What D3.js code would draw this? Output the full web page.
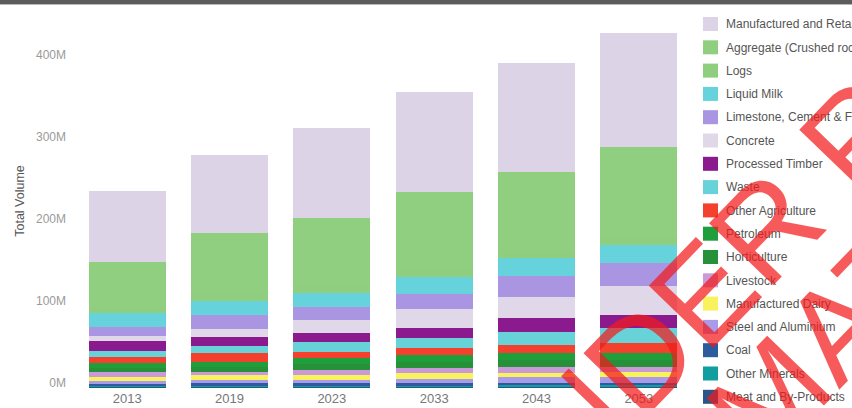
<!DOCTYPE html>
<html>
<head>
<meta charset="utf-8">
<script src="https://cdn.jsdelivr.net/npm/d3@7"></script>
<style>
  html, body { margin: 0; padding: 0; background: #fff; overflow: hidden; }
  svg { display: block; }
</style>
</head>
<body>
<svg id="chart" width="852" height="408"></svg>
<script>
// Freight volume by commodity, millions of tonnes
const years = ["2013", "2019", "2023", "2033", "2043", "2053"];

const seriesNames = [
  "Manufactured and Retail",
  "Aggregate (Crushed rock)",
  "Logs",
  "Liquid Milk",
  "Limestone, Cement & Fertiliser",
  "Concrete",
  "Processed Timber",
  "Waste",
  "Other Agriculture",
  "Petroleum",
  "Horticulture",
  "Livestock",
  "Manufactured Dairy",
  "Steel and Aluminium",
  "Coal",
  "Other Minerals",
  "Meat and By-Products"
];

const manufacturedRetail = [86.6, 95, 110, 121, 133, 139];
const aggregate          = [56, 74, 83, 94, 95, 108.5];
const logs               = [7, 8.5, 8.5, 10, 10, 11];
const liquidMilk         = [17, 17, 17, 21, 22, 23];
const limestoneCement    = [10, 17, 16, 18, 25.6, 28];
const concrete           = [7, 10, 16, 23, 25.6, 35];
const processedTimber    = [12, 11, 11, 12, 17, 16];
const waste              = [7, 8.5, 12, 13, 16, 18];
const otherAgriculture   = [7, 11, 8, 8.5, 10, 12];
const petroleum          = [6, 6, 6.7, 8, 8.5, 8.5];
const horticulture       = [5, 6, 7.3, 8, 8.5, 8.5];
const livestock          = [6, 4, 6, 6, 6.7, 6];
const manufacturedDairy  = [5, 6, 6, 7, 5.5, 6];
const steelAluminium     = [4, 4, 4, 5, 7.3, 7.3];
const coal               = [2.5, 3, 3, 3, 3, 3];
const otherMinerals      = [1.2, 1.2, 1.2, 1.2, 1.5, 1.8];
const meatByProducts     = [1.2, 1.8, 1.8, 1.8, 1.6, 1.8];

const yTicks = [0, 100, 200, 300, 400];

const seriesValues = [
  manufacturedRetail, aggregate, logs, liquidMilk, limestoneCement, concrete,
  processedTimber, waste, otherAgriculture, petroleum, horticulture, livestock,
  manufacturedDairy, steelAluminium, coal, otherMinerals, meatByProducts
];

const palette = [
  "#ddd3e6", "#90cf80", "#8fce7f", "#66d2dc", "#a995e2", "#e0d8e9",
  "#8b1a8f", "#68d2d9", "#f4412d", "#1f9e3c", "#27913a", "#c99ad7",
  "#f8f25c", "#a99bea", "#2c5c9e", "#109ea0", "#2c5587"
];

const svg = d3.select("#chart");

// header strip
svg.append("rect").attr("x", 0).attr("y", 0).attr("width", 852).attr("height", 4)
  .attr("fill", "#5c5c5c");
svg.append("rect").attr("x", 0).attr("y", 4).attr("width", 852).attr("height", 1)
  .attr("fill", "#b8b8b8");

// rows keyed by year for the stack
const table = years.map((yr, i) => {
  const row = { year: yr };
  seriesNames.forEach((name, s) => { row[name] = seriesValues[s][i]; });
  return row;
});

// stack from the bottom of the legend upward
const stackKeys = seriesNames.slice().reverse();
const stacked = d3.stack().keys(stackKeys)(table);

const color = d3.scaleOrdinal().domain(seriesNames).range(palette);

const x = d3.scaleBand().domain(years).range([76, 690])
  .paddingInner(0.25).paddingOuter(0.125);
const y = d3.scaleLinear().domain([0, 400]).range([388, 60]);

// bars
svg.append("g")
  .attr("shape-rendering", "crispEdges")
  .selectAll("g")
  .data(stacked)
  .join("g")
  .attr("fill", d => color(d.key))
  .selectAll("rect")
  .data(d => d)
  .join("rect")
  .attr("x", d => x(d.data.year))
  .attr("width", x.bandwidth())
  .attr("y", d => y(d[1]))
  .attr("height", d => Math.max(0, y(d[0]) - y(d[1])));

// y axis labels
const yAxis = d3.axisLeft(y).tickValues(yTicks).tickFormat(d => d + "M").tickSize(0).tickPadding(0);
const yG = svg.append("g").attr("transform", "translate(66,-5)").call(yAxis);
yG.select(".domain").remove();
yG.selectAll("text")
  .attr("fill", "#9a9a9a")
  .style("font-family", "'Liberation Sans', Arial, sans-serif")
  .style("font-size", "12px");

// x axis labels
const xAxis = d3.axisBottom(x).tickSize(0).tickPadding(0);
const xG = svg.append("g").attr("transform", "translate(0,394)").call(xAxis);
xG.select(".domain").remove();
xG.selectAll("text")
  .attr("fill", "#777")
  .style("font-family", "'Liberation Sans', Arial, sans-serif")
  .style("font-size", "13px");

// y axis title
svg.append("text")
  .attr("transform", "translate(24,201) rotate(-90)")
  .attr("text-anchor", "middle")
  .attr("fill", "#555")
  .style("font-family", "'Liberation Sans', Arial, sans-serif")
  .style("font-size", "12.5px")
  .text("Total Volume");

// legend
const legend = svg.append("g").selectAll("g")
  .data(seriesNames)
  .join("g")
  .attr("transform", (d, i) => `translate(703,${24 + i * 23.3})`);
legend.append("rect")
  .attr("x", 0).attr("y", -7).attr("width", 15).attr("height", 14)
  .attr("fill", d => color(d));
legend.append("text")
  .attr("x", 23).attr("dy", "0.35em")
  .attr("fill", "#555")
  .style("font-family", "'Liberation Sans', Arial, sans-serif")
  .style("font-size", "12px")
  .text(d => d);

// review stamp across the lower right
const stamp = svg.append("g")
  .attr("transform", "translate(510,558) rotate(-46)")
  .attr("fill", "#f21a1a")
  .attr("fill-opacity", 0.72)
  .style("font-family", "'Liberation Sans', Arial, sans-serif")
  .style("font-size", "130px");
stamp.append("text").attr("x", 0).attr("y", 0).text("UNDER REVIEW");
stamp.append("text").attr("x", 241).attr("y", 120).text("MATERIAL");
</script>
</body>
</html>
